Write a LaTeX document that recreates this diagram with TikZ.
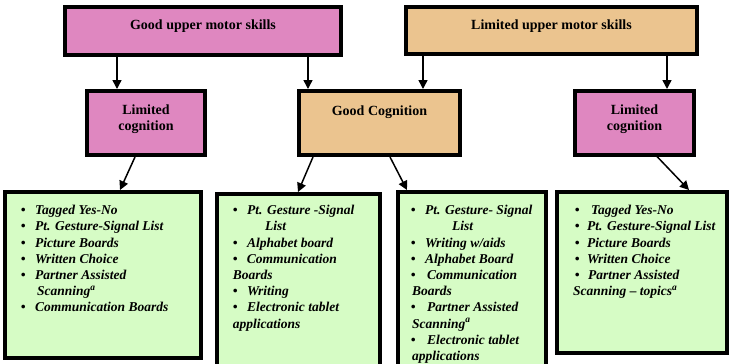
\documentclass[tikz,border=0pt]{standalone}
\usepackage{fontspec}
\setmainfont{Liberation Serif}
\usetikzlibrary{arrows.meta}
\definecolor{pinkc}{RGB}{223,135,192}
\definecolor{tanc}{RGB}{235,196,143}
\definecolor{greenc}{RGB}{214,252,197}
\newcommand\bulw[1]{\makebox[#1][l]{\textbullet}}
\tikzset{
  boxbase/.style={draw=black, line width=4pt, inner ysep=0pt, inner xsep=0pt, align=center,
    font=\fontsize{14}{16}\selectfont\bfseries},
  pinkbox/.style={boxbase, fill=pinkc},
  tanbox/.style={boxbase, fill=tanc},
  greenbox/.style={draw=black, line width=4pt, fill=greenc, inner sep=0pt},
  listtext/.style={anchor=north west, inner sep=0pt, align=left,
    font=\fontsize{13.5}{16.2}\selectfont\bfseries\itshape},
  arr/.style={line width=1.5pt, -{Triangle[length=9pt,width=9pt]}},
}
\begin{document}
\begin{tikzpicture}[x=1pt,y=-1pt]
\useasboundingbox (0,0) rectangle (729,364);
\clip (0,0) rectangle (729,364);
\fill[white] (0,0) rectangle (729,364);
% top boxes
\node[pinkbox, minimum width=276pt, text height=22.3pt, text depth=25.7pt] (top1) at (203,31) {Good upper motor skills};
\node[tanbox, minimum width=291pt, text height=22.3pt, text depth=24.7pt] (top2) at (551.5,30.5) {Limited upper motor skills};
% middle boxes
\node[pinkbox, minimum width=118pt, text height=23pt, text depth=41pt] (lc1) at (146,123)
  {\begin{tabular}[t]{@{}c@{}}Limited\\cognition\end{tabular}};
\node[tanbox, minimum width=161pt, text height=24pt, text depth=40pt] (gc) at (379.5,123) {Good Cognition};
\node[pinkbox, minimum width=119pt, text height=23pt, text depth=40.5pt] (lc2) at (634.5,122.75)
  {\begin{tabular}[t]{@{}c@{}}Limited\\cognition\end{tabular}};
% bottom boxes
\node[greenbox, minimum width=196pt, minimum height=166pt] (A) at (103,275) {};
\node[greenbox, minimum width=163pt, minimum height=204pt] (B) at (298.5,296) {};
\node[greenbox, minimum width=148pt, minimum height=206pt] (C) at (472,295) {};
\node[greenbox, minimum width=170pt, minimum height=161pt] (D) at (642,272.5) {};
% list texts
\node[listtext] (tA) at (20.7,203.2) {\strut\bulw{14.3pt}Tagged Yes-No\\
  \bulw{14.3pt}Pt. Gesture-Signal List\\
  \bulw{14.3pt}Picture Boards\\
  \bulw{14.3pt}Written Choice\\
  \bulw{14.3pt}Partner Assisted\\
  \hspace*{16.3pt}Scanning\textsuperscript{a}\\
  \bulw{14.3pt}Communication Boards};
\node[listtext] (tB) at (232.7,203.2) {\strut\bulw{14.3pt}Pt. Gesture -Signal\\
  \hspace*{32.3pt}List\\
  \bulw{14.3pt}Alphabet board\\
  \bulw{14pt}Communication\\
  Boards\\
  \bulw{14.3pt}Writing\\
  \bulw{14.3pt}Electronic tablet\\
  applications};
\node[listtext] (tC) at (410.7,203.2) {\strut\bulw{14.3pt}Pt. Gesture- Signal\\
  \hspace*{41.3pt}List\\
  \bulw{14.3pt}Writing w/aids\\
  \bulw{14.3pt}Alphabet Board\\
  \bulw{16.3pt}Communication\\
  \hspace*{1.3pt}Boards\\
  \bulw{16.3pt}Partner Assisted\\
  \hspace*{1.3pt}Scanning\textsuperscript{a}\\
  \bulw{16.3pt}Electronic tablet\\
  \hspace*{1.3pt}applications};
\node[listtext] (tD) at (573,203.2) {\strut\hspace*{1.7pt}\bulw{16.3pt}Tagged Yes-No\\
  \hspace*{1.7pt}\bulw{12.3pt}Pt. Gesture-Signal List\\
  \hspace*{1.7pt}\bulw{12.3pt}Picture Boards\\
  \hspace*{1.7pt}\bulw{12.3pt}Written Choice\\
  \hspace*{1.7pt}\bulw{13.3pt}Partner Assisted\\
  Scanning -- topics\textsuperscript{a}};
% arrows top -> middle
\draw[arr] ([xshift=54pt]top1.south west) -- ([xshift=54pt]top1.south west |- lc1.north);
\draw[arr] ([xshift=245pt]top1.south west) -- ([xshift=245pt]top1.south west |- gc.north);
\draw[arr] ([xshift=19pt]top2.south west) -- ([xshift=19pt]top2.south west |- gc.north);
\draw[arr] ([xshift=263pt]top2.south west) -- ([xshift=263pt]top2.south west |- lc2.north);
% arrows middle -> bottom
\draw[arr] ([xshift=50pt]lc1.south west) -- ([xshift=117pt]A.north west);
\draw[arr] ([xshift=16pt]gc.south west) -- ([xshift=83pt]B.north west);
\draw[arr] ([xshift=93pt]gc.south west) -- ([xshift=11pt]C.north west);
\draw[arr] ([xshift=84pt]lc2.south west) -- ([xshift=134pt]D.north west);
\end{tikzpicture}
\end{document}
